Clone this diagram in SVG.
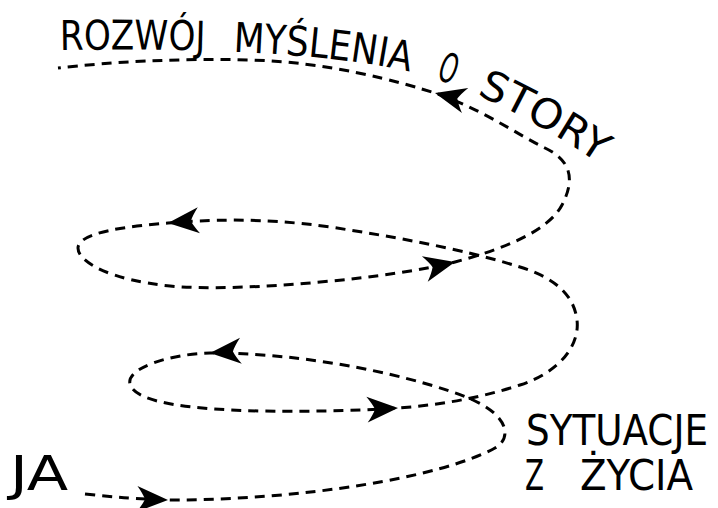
<svg xmlns="http://www.w3.org/2000/svg" width="718" height="508" viewBox="0 0 718 508">
<style>
.lbl{font-family:"Liberation Sans Narrow","DejaVu Sans Condensed","Liberation Sans",sans-serif;fill:#000;}
.flow{fill:none;stroke:#000;stroke-width:3;stroke-dasharray:10 7;}
.ah{fill:#000;stroke:none;}
</style>
<defs>
<path id="ah" d="M0,0 L-31,-13 Q-25,-5 -23,0 Q-25,5 -31,13 Z"/>
<path id="titlePath" d="M58,50 C200,48 330,52 420,74 C470,88 535,120 598,163"/>
</defs>
<rect width="718" height="508" fill="#fff"/>
<g id="connectors">
<path class="flow" d="M85,494 Q130,499 170,500 C300,500 440,478 495,448 C510,440 512,418 473,400 C440,385 330,353 210,353 C170,354 126,368 130,384 C134,400 175,409 260,411 C320,412 370,410 398,408 C440,405 480,398 520,385 C560,372 580,345 577,320 C574,295 555,278 520,267 C485,256 430,242 330,227 C260,217 205,220 168,223 C130,226 78,232 78,248 C78,262 110,280 170,286 C240,293 400,277 455,262 C500,250 548,232 562,205 C576,178 570,160 545,148 C520,136 480,108 435,93 C400,82 330,62 250,60 C180,58 110,62 58,68"/>
<use href="#ah" class="ah" transform="translate(168,500) rotate(2)"/>
<use href="#ah" class="ah" transform="translate(398,408) rotate(-3)"/>
<use href="#ah" class="ah" transform="translate(210,353) rotate(176)"/>
<use href="#ah" class="ah" transform="translate(455,262) rotate(-13)"/>
<use href="#ah" class="ah" transform="translate(168,223) rotate(175)"/>
<use href="#ah" class="ah" transform="translate(435,93) rotate(-166)"/>
</g>
<g id="title">
<text class="lbl" font-size="41"><textPath href="#titlePath" startOffset="2" textLength="145" lengthAdjust="spacingAndGlyphs">ROZWÓJ</textPath></text>
<text class="lbl" font-size="41"><textPath href="#titlePath" startOffset="175" textLength="178" lengthAdjust="spacingAndGlyphs">MYŚLENIA</textPath></text>
<text class="lbl" font-size="41"><textPath href="#titlePath" startOffset="380" textLength="18" lengthAdjust="spacingAndGlyphs">O</textPath></text>
<text class="lbl" font-size="41"><textPath href="#titlePath" startOffset="424" textLength="140" lengthAdjust="spacingAndGlyphs">STORY</textPath></text>
</g>
<g id="ja">
<text class="lbl" x="10" y="490" font-size="48" textLength="58" lengthAdjust="spacingAndGlyphs">JA</text>
</g>
<g id="sytuacje">
<text class="lbl" x="526" y="445" font-size="42" textLength="182" lengthAdjust="spacingAndGlyphs">SYTUACJE</text>
<text class="lbl" x="525" y="490" font-size="42"><tspan textLength="19" lengthAdjust="spacingAndGlyphs">Z</tspan> <tspan x="580" textLength="113" lengthAdjust="spacingAndGlyphs">ŻYCIA</tspan></text>
</g>
</svg>
